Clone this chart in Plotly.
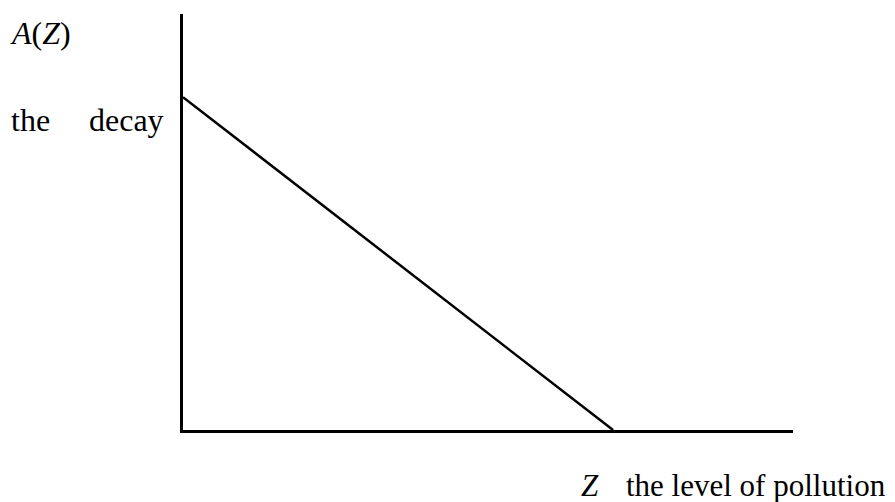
import plotly.graph_objects as go

# decay curve: A(Z) falls linearly with pollution level Z
z_level = [0, 7.05]
decay = [8.0, 0]

FONT = "Liberation Serif"
PAGE_PAD = 8  # default body margin of the html page

fig = go.Figure()

fig.add_trace(go.Scatter(
    x=z_level, y=decay,
    mode='lines',
    line=dict(color='black', width=2.5),
    showlegend=False,
    hoverinfo='skip'
))


def px_x(px):
    return (px - 183) / 610


def px_y(py):
    return (430 - py) / 416


labels = [
    ("<i>A</i>(<i>Z</i>)", 8, 33, 32),
    ("the", 9, 120, 32),
    ("decay", 87, 120, 32),
    ("<i>Z</i>", 579, 485, 31),
    ("the level of pollution", 624, 485, 31),
]
for text, lx, ly, size in labels:
    fig.add_annotation(
        x=px_x(lx), y=px_y(ly), xref='paper', yref='paper',
        text=text, showarrow=False, xanchor='left', yanchor='middle',
        font=dict(family=FONT, size=size, color='black')
    )

fig.update_layout(
    width=895 - PAGE_PAD, height=502 - PAGE_PAD,
    margin=dict(l=183 - PAGE_PAD, r=102, t=14 - PAGE_PAD, b=72),
    plot_bgcolor='white', paper_bgcolor='white',
    xaxis=dict(range=[0, 10], showgrid=False, zeroline=False, showticklabels=False,
               ticks='', showline=True, linecolor='black', linewidth=2.5),
    yaxis=dict(range=[0, 10], showgrid=False, zeroline=False, showticklabels=False,
               ticks='', showline=True, linecolor='black', linewidth=2.5),
)

fig.write_html("out.html")
